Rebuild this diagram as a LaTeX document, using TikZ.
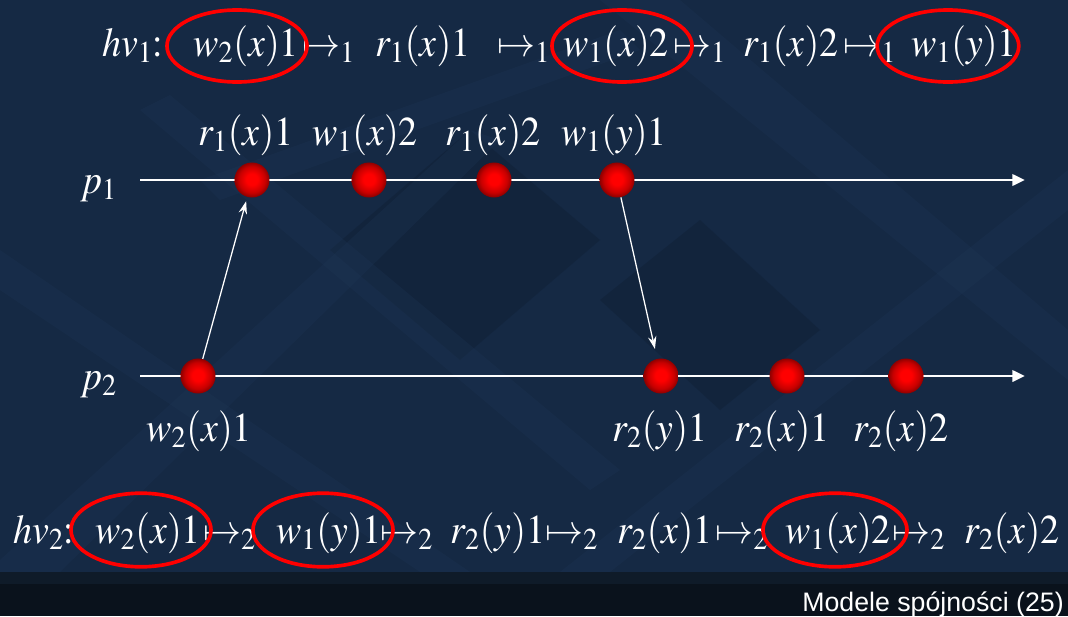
\documentclass[tikz,border=0pt]{standalone}
\usepackage{mathptmx}
\usepackage[no-math]{fontspec}
\setmainfont{Liberation Serif}
\setsansfont{Liberation Sans}
\usepackage{graphicx}
\usetikzlibrary{arrows.meta}
\definecolor{bgnavy}{RGB}{21,41,68}
\definecolor{bglight}{RGB}{30,54,86}
\definecolor{bgdark}{RGB}{15,30,50}
\definecolor{footer}{RGB}{10,18,28}
\definecolor{footerstrip}{RGB}{15,27,41}
\pgfdeclareradialshading{redball}{\pgfpoint{0bp}{1bp}}{color(0bp)=(red); color(8bp)=(red); color(19bp)=(red!78!black); color(25bp)=(red!55!black); color(50bp)=(red!55!black)}
\newcommand{\mt}[1]{\scalebox{1.0}[1.08]{$#1$}}
\begin{document}
\begin{tikzpicture}[x=0.025cm,y=-0.025cm,
  lbl/.style={anchor=base west, inner sep=0pt, text=white, font=\fontsize{27}{31}\selectfont},
  ring/.style={draw=red, line width=2.6pt},
  dot/.style={circle, minimum size=0.875cm, inner sep=0pt, shading=redball},
  axis/.style={draw=white, line width=2pt, -{Triangle[length=9pt,width=8pt]}},
  msg/.style={draw=white, line width=0.9pt, -{Stealth[length=9pt,width=6pt,inset=3pt]}},
  band/.style={fill=bglight, opacity=0.3}]
% background
\fill[bgnavy] (0,0) rectangle (1068,616);
\fill[bgdark, opacity=0.4] (330,250) -- (470,130) -- (600,240) -- (460,360) -- cycle;
\fill[bgdark, opacity=0.4] (600,300) -- (700,220) -- (820,330) -- (720,410) -- cycle;
\fill[band] (0,250) -- (0,290) -- (420,572) -- (470,572) -- cycle;
\fill[band] (140,110) -- (170,95) -- (620,470) -- (590,490) -- cycle;
\fill[band] (0,560) -- (0,572) -- (60,572) -- (500,140) -- (470,130) -- cycle;
\fill[band] (560,572) -- (610,572) -- (1068,210) -- (1068,170) -- cycle;
\fill[band] (600,0) -- (680,0) -- (1068,330) -- (1068,380) -- cycle;
\fill[band] (200,180) -- (620,30) -- (640,50) -- (220,200) -- cycle;
\fill[footer] (0,572) rectangle (1068,616);
\fill[footerstrip] (0,572) rectangle (1068,584);
\node[anchor=base east, inner sep=0pt, text=white, font=\sffamily\fontsize{19}{22}\selectfont] (foot) at (1064,611) {Modele spójności (25)};

% top history hv1
\node[lbl] (h1) at (102,56) {\mt{hv_1{:}}};
\node[lbl] (t1) at (193,56) {\mt{w_2(x)1}};
\node[lbl] (ta1) at (302,56) {\mt{\mapsto_1}};
\node[lbl] (t2) at (375,56) {\mt{r_1(x)1}};
\node[lbl] (ta2) at (497,56) {\mt{\mapsto_1}};
\node[lbl] (t3) at (563,56) {\mt{w_1(x)2}};
\node[lbl] (ta3) at (673,56) {\mt{\mapsto_1}};
\node[lbl] (t4) at (743,56) {\mt{r_1(x)2}};
\node[lbl] (ta4) at (843,56) {\mt{\mapsto_1}};
\node[lbl] (t5) at (911,56) {\mt{w_1(y)1}};
\draw[ring] (237,46) ellipse [x radius=1.75cm, y radius=0.9cm];
\draw[ring] (622,46) ellipse [x radius=1.75cm, y radius=0.9cm];
\draw[ring] (948,46) ellipse [x radius=1.77cm, y radius=0.9cm];

% bottom history hv2
\node[lbl] (h2) at (13,543) {\mt{hv_2{:}}};
\node[lbl] (b1) at (95,543) {\mt{w_2(x)1}};
\node[lbl] (ba1) at (203,543) {\mt{\mapsto_2}};
\node[lbl] (b2) at (276,543) {\mt{w_1(y)1}};
\node[lbl] (ba2) at (380,543) {\mt{\mapsto_2}};
\node[lbl] (b3) at (450,543) {\mt{r_2(y)1}};
\node[lbl] (ba3) at (545,543) {\mt{\mapsto_2}};
\node[lbl] (b4) at (617,543) {\mt{r_2(x)1}};
\node[lbl] (ba4) at (715,543) {\mt{\mapsto_2}};
\node[lbl] (b5) at (785,543) {\mt{w_1(x)2}};
\node[lbl] (ba5) at (892,543) {\mt{\mapsto_2}};
\node[lbl] (b6) at (964,543) {\mt{r_2(x)2}};
\draw[ring] (141,530) ellipse [x radius=1.75cm, y radius=0.92cm];
\draw[ring] (323,530) ellipse [x radius=1.75cm, y radius=0.92cm];
\draw[ring] (835,530) ellipse [x radius=1.8cm, y radius=0.92cm];

% process lines
\node[lbl] (p1) at (80,193) {\mt{p_1}};
\node[lbl] (p2) at (80,389) {\mt{p_2}};
\coordinate (p1s) at (140,180);
\coordinate (p1e) at (1025,180);
\coordinate (p2s) at (140,376);
\coordinate (p2e) at (1025,376);
\draw[axis] (p1s) -- (p1e);
\draw[axis] (p2s) -- (p2e);

% events
\node[dot] (e11) at (252,180) {};
\node[dot] (e12) at (369,180) {};
\node[dot] (e13) at (494,180) {};
\node[dot] (e14) at (617,180) {};
\node[dot] (e21) at (198,376) {};
\node[dot] (e22) at (661,376) {};
\node[dot] (e23) at (787,376) {};
\node[dot] (e24) at (906,376) {};

\node[lbl] (l11) at (198,145) {\mt{r_1(x)1}};
\node[lbl] (l12) at (312,145) {\mt{w_1(x)2}};
\node[lbl] (l13) at (445,145) {\mt{r_1(x)2}};
\node[lbl] (l14) at (561,145) {\mt{w_1(y)1}};
\node[lbl] (l21) at (146,441) {\mt{w_2(x)1}};
\node[lbl] (l22) at (612,441) {\mt{r_2(y)1}};
\node[lbl] (l23) at (734,441) {\mt{r_2(x)1}};
\node[lbl] (l24) at (853,441) {\mt{r_2(x)2}};

% messages
\draw[msg, shorten >=3pt] (e21) -- (e11);
\draw[msg, shorten >=7pt] (e14) -- (e22);
\end{tikzpicture}
\end{document}
